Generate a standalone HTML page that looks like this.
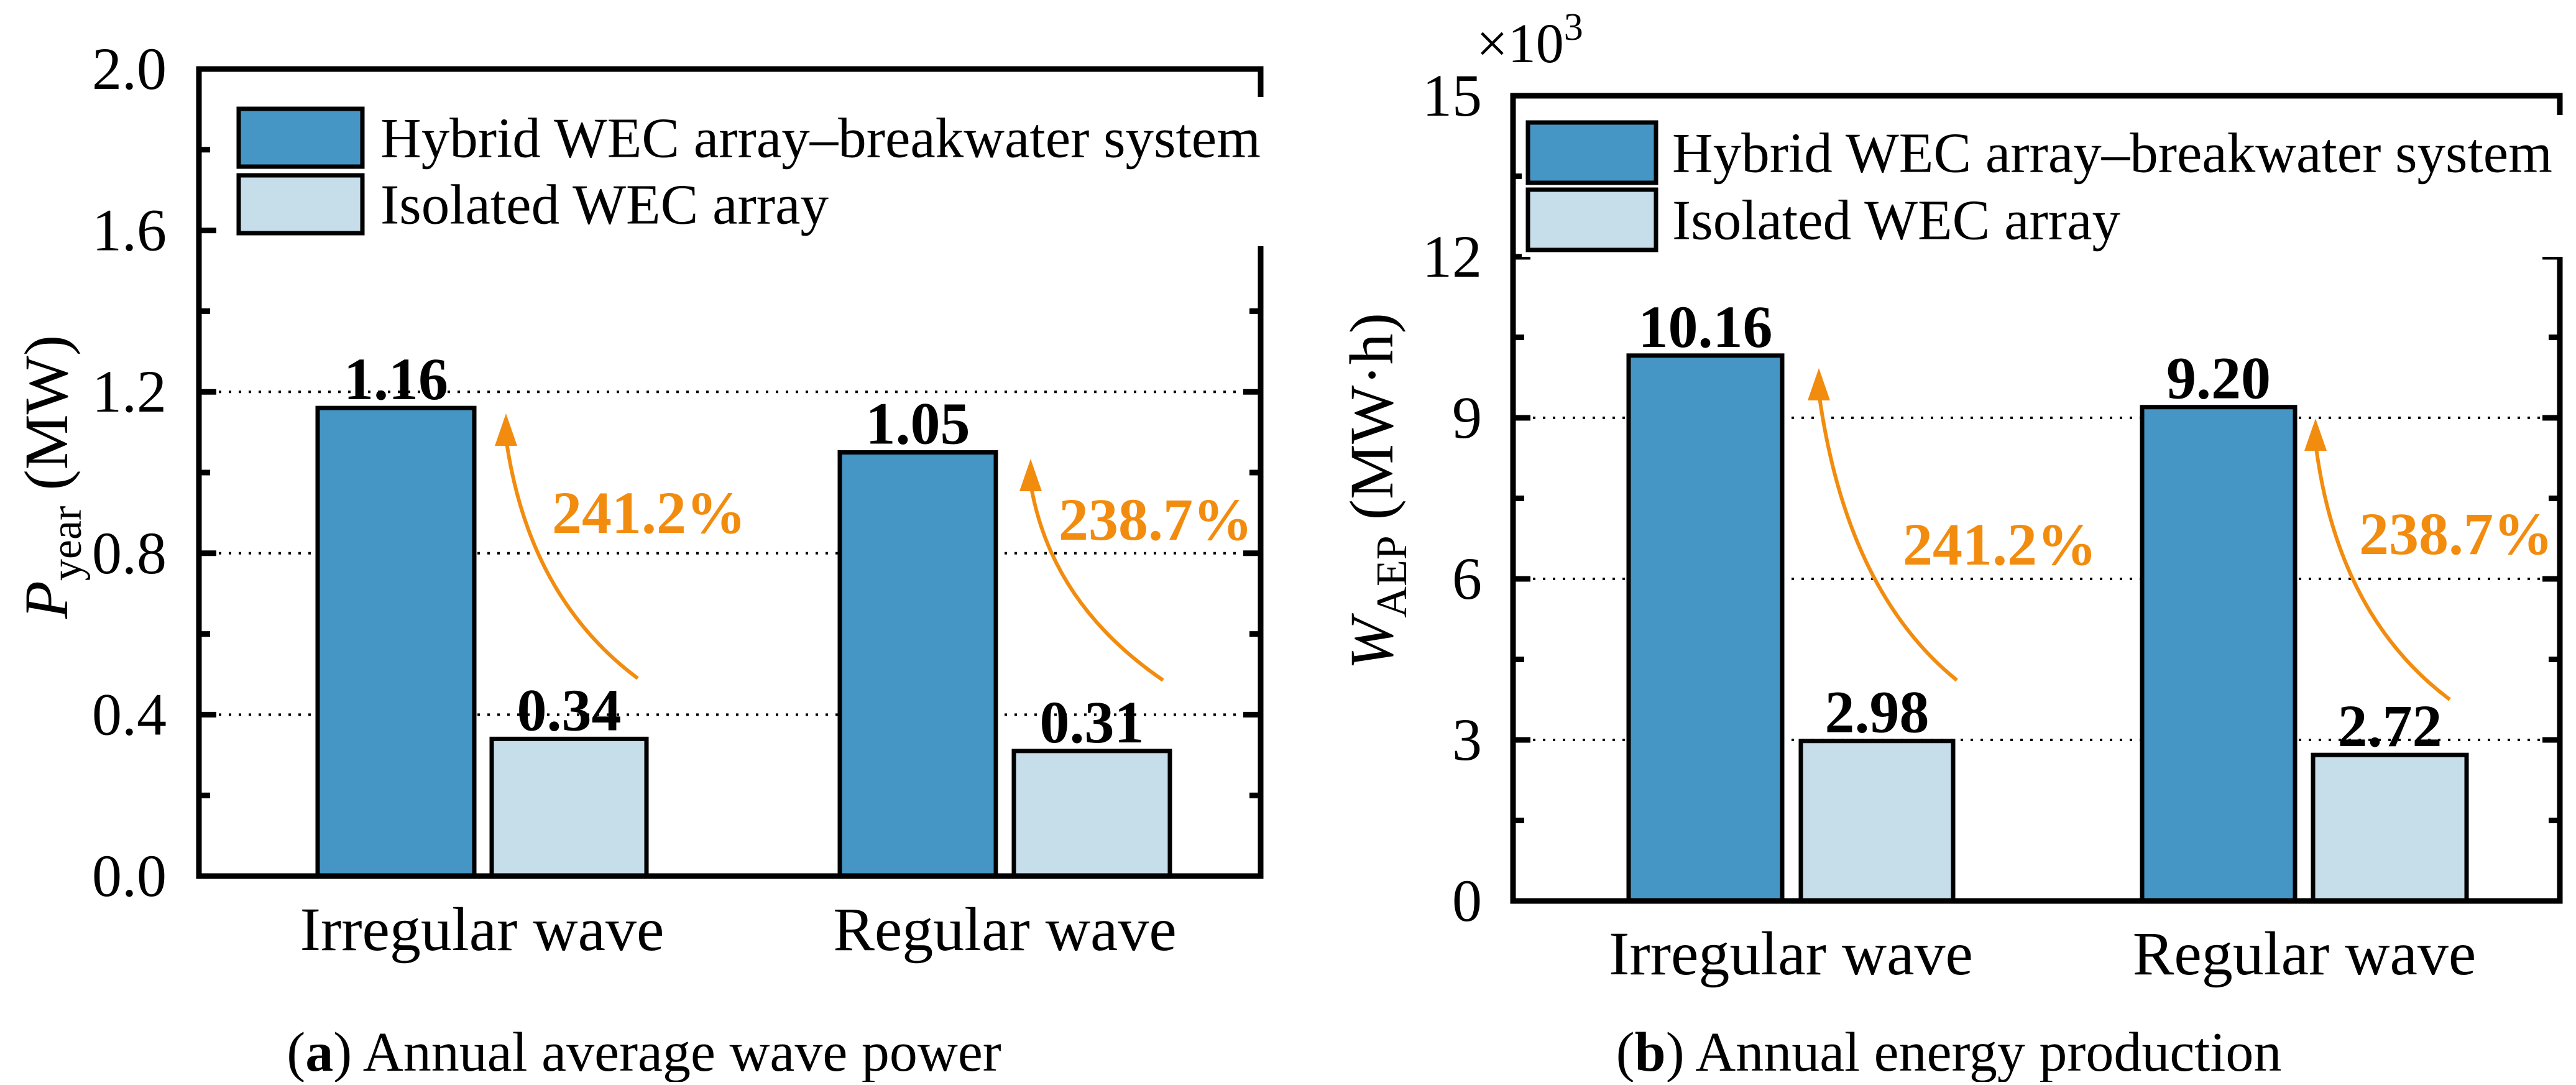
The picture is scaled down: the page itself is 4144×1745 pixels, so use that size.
<!DOCTYPE html>
<html><head><meta charset="utf-8"><style>
html,body{margin:0;padding:0;background:#fff;font-family:"Liberation Serif",serif;}
</style></head><body>
<svg id="fig" width="4144" height="1740" viewBox="0 0 4144 1740" xmlns="http://www.w3.org/2000/svg" style="font-family:'Liberation Serif',serif"></svg>
<script>
const categories = ["Irregular wave", "Regular wave"];
const seriesNames = ["Hybrid WEC array\u2013breakwater system", "Isolated WEC array"];
const powerHybrid = [1.16, 1.05];
const powerIsolated = [0.34, 0.31];
const powerLabels = [["1.16","1.05"],["0.34","0.31"]];
const powerTicks = ["0.0","0.4","0.8","1.2","1.6","2.0"];
const energyHybrid = [10.16, 9.20];
const energyIsolated = [2.98, 2.72];
const energyLabels = [["10.16","9.20"],["2.98","2.72"]];
const energyTicks = ["0","3","6","9","12","15"];
const increases = ["241.2%", "238.7%"];

const NS = "http://www.w3.org/2000/svg";
const svg = document.getElementById('fig');
const FF = "font-family:'Liberation Serif','Times New Roman',serif;";
function mk(tag, attrs, parent, text){
  const e = document.createElementNS(NS, tag);
  for (const k in attrs) e.setAttribute(k, attrs[k]);
  if (tag === 'text' || tag === 'tspan') e.setAttribute('style', FF + (attrs.style||''));
  if (text !== undefined) {
    if (tag === 'text') { const t = document.createElementNS(NS,'tspan'); t.setAttribute('style',FF); t.textContent = text; e.appendChild(t); }
    else e.textContent = text;
  }
  (parent||svg).appendChild(e);
  return e;
}

function panel(cfg){
  const g = mk('g', {});
  
  
  const L=cfg.x0, R=cfg.x1, T=cfg.y0, B=cfg.y1;
  const ymax = cfg.ymax;
  const yScale = v => B - (v/ymax)*(B-T);
  cfg.grid.forEach(v=>{
    const gl = mk('line',{x1:L,x2:R,y1:yScale(v),y2:yScale(v),stroke:'#000','stroke-width':4,'stroke-dasharray':'4 12'},g);
    
    
  });
  const colors=['#4596C5','#C6DDEA'];
  const data=[cfg.s1,cfg.s2];
  for(let s=0;s<2;s++){
    for(let i=0;i<categories.length;i++){
      const xl = cfg.barX[i][s][0], xr = cfg.barX[i][s][1];
      const yt = yScale(data[s][i]);
      const r = mk('rect',{x:xl,y:yt,width:xr-xl,height:B-yt,fill:colors[s],stroke:'#000','stroke-width':7},g);
      
      
      const t = mk('text',{x:(xl+xr)/2,y:yt-14,'text-anchor':'middle','font-size':96,'font-weight':'bold'},g,cfg.labels[s][i]);
      
      
    }
  }
  const fr = mk('rect',{x:L,y:T,width:R-L,height:B-T,fill:'none',stroke:'#000','stroke-width':9},g);
  
  
  const nT = cfg.ticks.length;
  for(let k=0;k<nT;k++){
    const v = k*ymax/(nT-1);
    const y = yScale(v);
    mk('line',{x1:L,x2:L+28,y1:y,y2:y,stroke:'#000','stroke-width':9},g);
    mk('line',{x1:R,x2:R-28,y1:y,y2:y,stroke:'#000','stroke-width':9},g);
    if(k<nT-1){
      const ym = yScale(v+ymax/(nT-1)/2);
      mk('line',{x1:L,x2:L+18,y1:ym,y2:ym,stroke:'#000','stroke-width':9},g);
      mk('line',{x1:R,x2:R-18,y1:ym,y2:ym,stroke:'#000','stroke-width':9},g);
    }
    const tl = mk('text',{x:cfg.tickRight,y:y+32,'text-anchor':'end','font-size':96},g,cfg.ticks[k]);
    
    
  }
  const lg = mk('g',{},g);
  
  
  mk('rect',{x:cfg.leg.bx,y:cfg.leg.by,width:R+14-cfg.leg.bx,height:cfg.leg.bh,fill:'#fff'},lg);
  for(let s=0;s<2;s++){
    const sy = cfg.leg.sy[s];
    const sw = mk('rect',{x:cfg.leg.sx,y:sy,width:cfg.leg.sw,height:cfg.leg.sh,fill:colors[s],stroke:'#000','stroke-width':7},lg);
    
    
    const lt = mk('text',{x:cfg.leg.tx,y:sy+cfg.leg.sh/2+31,'font-size':91},lg,seriesNames[s]);
    
    
  }
  for(let i=0;i<categories.length;i++){
    const xc = (cfg.barX[i][0][0]+cfg.barX[i][1][1])/2;
    const xl = mk('text',{x:xc,y:cfg.xlabY,'text-anchor':'middle','font-size':100},g,categories[i]);
    
    
  }
  for(let i=0;i<2;i++){
    const a = cfg.arrows[i];
    const p = mk('path',{d:`M${a.sx},${a.sy} Q${a.cx},${a.cy} ${a.ex},${a.ey+40}`,fill:'none',stroke:'#F28C0F','stroke-width':6},g);
    
    
    mk('polygon',{points:`${a.ex},${a.ey} ${a.ex-18},${a.ey+52} ${a.ex+18},${a.ey+52}`,fill:'#F28C0F'},g);
    const at = mk('text',{x:a.tx,y:a.ty,'font-size':96,'font-weight':'bold',fill:'#F28C0F'},g,increases[i]);
    
    
  }
  const yt = mk('text',{transform:`translate(${cfg.ytX},${cfg.ytY}) rotate(-90)`,'text-anchor':'middle','font-size':100},g);
  
  
  mk('tspan',{style:'font-style:italic'},yt,cfg.ytMain);
  mk('tspan',{'font-size':70,dy:22},yt,cfg.ytSub);
  mk('tspan',{dy:-22},yt,' '+cfg.ytUnit);
  const cp = mk('text',{x:cfg.capX,y:1722,'text-anchor':'middle','font-size':90},g);
  
  
  mk('tspan',{},cp,'(');
  mk('tspan',{style:'font-weight:bold'},cp,cfg.capLetter);
  mk('tspan',{},cp,') '+cfg.capText);
  return g;
}

panel({name:'panel-a-power', x0:320,x1:2028,y0:111,y1:1409,ymax:2.0,
  grid:[0.4,0.8,1.2], s1:powerHybrid, s2:powerIsolated, labels:powerLabels, ticks:powerTicks, tickRight:268,
  barX:[[[511,763],[791,1040]],[[1351,1602],[1631,1882]]],
  leg:{bx:377,by:156,bh:240,sx:384,sy:[175,282],sw:199,sh:93,tx:612},
  xlabY:1528,
  arrows:[{sx:1026,sy:1091,cx:850,cy:960,ex:814,ey:665,tx:888,ty:857},
          {sx:1871,sy:1094,cx:1690,cy:970,ex:1658,ey:738,tx:1703,ty:868}],
  ytX:108,ytY:767,ytMain:'P',ytSub:'year',ytUnit:'(MW)',
  capX:1036,capLetter:'a',capText:'Annual average wave power'});

panel({name:'panel-b-energy', x0:2434,x1:4118,y0:154,y1:1449,ymax:15,
  grid:[3,6,9], s1:energyHybrid, s2:energyIsolated, labels:energyLabels, ticks:energyTicks, tickRight:2384,
  barX:[[[2620,2867],[2897,3142]],[[3446,3692],[3721,3968]]],
  leg:{bx:2448,by:185,bh:228,sx:2458,sy:[197,305],sw:206,sh:97,tx:2690},
  xlabY:1567,
  arrows:[{sx:3148,sy:1094,cx:2970,cy:950,ex:2926,ey:592,tx:3061,ty:908},
          {sx:3941,sy:1125,cx:3760,cy:990,ex:3725,ey:673,tx:3795,ty:891}],
  ytX:2240,ytY:790,ytMain:'W',ytSub:'AEP',ytUnit:'(MW\u00b7h)',
  capX:3135,capLetter:'b',capText:'Annual energy production'});

const mult = mk('text',{x:2375,y:100,'font-size':90});


mk('tspan',{},mult,'\u00d710');
mk('tspan',{'font-size':62,dy:-36},mult,'3');
</script>
</body></html>
